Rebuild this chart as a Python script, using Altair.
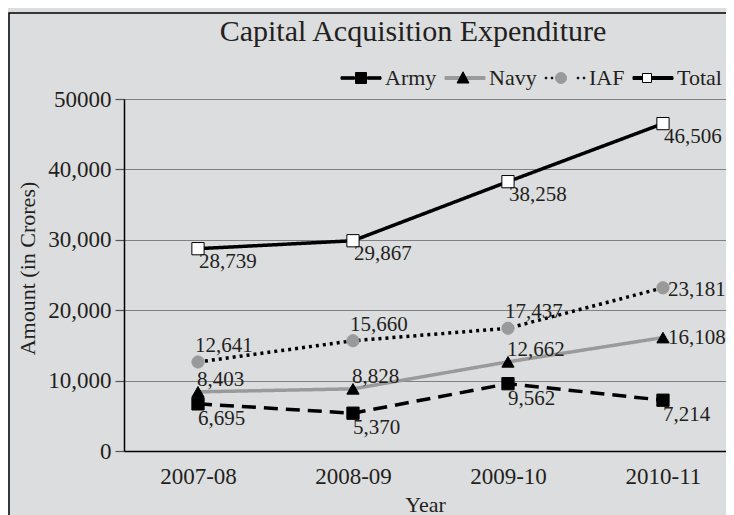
import altair as alt
import pandas as pd

years = ["2007-08", "2008-09", "2009-10", "2010-11"]
series_names = ["Army", "Navy", "IAF", "Total"]
army = [6695, 5370, 9562, 7214]
navy = [8403, 8828, 12662, 16108]
iaf = [12641, 15660, 17437, 23181]
total = [28739, 29867, 38258, 46506]
y_ticks = [0, 10000, 20000, 30000, 40000, 50000]

values_by_series = {"Army": army, "Navy": navy, "IAF": iaf, "Total": total}
rows = []
for s in series_names:
    for yr, v in zip(years, values_by_series[s]):
        rows.append({"Year": yr, "series": s, "series2": s, "Amount": v, "label": f"{v:,}"})
df = pd.DataFrame(rows)
legend_df = pd.DataFrame({"lg_line": series_names, "lg_mark": series_names})

FONT = "Liberation Serif"
TXT = "#231f20"
GRAY = "#9a9a9a"
W, H = 602, 352

x_enc = alt.X(
    "Year:O", sort=years,
    scale=alt.Scale(type="point", padding=0.442, align=0.54),
    axis=alt.Axis(labelAngle=0, ticks=False, tickSize=0, labelPadding=14,
                  domainColor="#000", domainWidth=1.5, grid=False,
                  labelFont=FONT, labelFontSize=23, labelColor=TXT,
                  title="Year", titleFont=FONT, titleFontSize=22, titleFontWeight="normal",
                  titleColor=TXT, titleX=301, titleY=53, titleBaseline="middle"),
)
y_enc = alt.Y(
    "Amount:Q",
    scale=alt.Scale(domain=[0, 50000], nice=False, zero=True),
    axis=alt.Axis(values=y_ticks,
                  labelExpr="datum.value == 50000 ? '50000' : format(datum.value, ',')",
                  grid=True, gridColor="#808080", gridWidth=1.2,
                  domainColor="#000", domainWidth=1.5,
                  tickColor="#555", tickSize=9, tickWidth=1.2,
                  labelFont=FONT, labelFontSize=23, labelColor=TXT, labelPadding=4,
                  title="Amount (in Crores)", titleFont=FONT, titleFontSize=22,
                  titleFontWeight="normal", titleColor=TXT,
                  titleX=-97, titleY=169, titleAlign="center", titleBaseline="middle"),
)

base = alt.Chart(df)

lines = base.mark_line(strokeJoin="round").encode(
    x=x_enc, y=y_enc,
    color=alt.Color("series:N", sort=series_names,
                    scale=alt.Scale(domain=series_names, range=["#000000", GRAY, "#000000", "#000000"]),
                    legend=None),
    strokeDash=alt.StrokeDash("series:N", sort=series_names,
                              scale=alt.Scale(domain=series_names, range=[[14, 8], [1, 0], [3, 4], [1, 0]]),
                              legend=None),
    strokeWidth=alt.StrokeWidth("series:N",
                                scale=alt.Scale(domain=series_names, range=[3.5, 3.5, 3, 4]),
                                legend=None),
)

points = base.mark_point(filled=True, opacity=1, strokeWidth=1).encode(
    x=x_enc, y=y_enc,
    shape=alt.Shape("series2:N",
                    scale=alt.Scale(domain=series_names, range=["square", "triangle-up", "circle", "square"]),
                    legend=None),
    fill=alt.Fill("series2:N",
                  scale=alt.Scale(domain=series_names, range=["#000000", "#000000", GRAY, "#ffffff"]),
                  legend=None),
    stroke=alt.Stroke("series2:N",
                      scale=alt.Scale(domain=series_names, range=["#000000", "#000000", GRAY, "#000000"]),
                      legend=None),
    size=alt.Size("series2:N", scale=alt.Scale(domain=series_names, range=[150, 150, 110, 90]), legend=None),
)

# legend glyphs (unit = 5px): line part and marker part, drawn as two identical overlaid legends
line_glyphs = [
    "M-4,-0.25H-1.3V0.25H-4ZM1.3,-0.25H4V0.25H1.3Z",
    "M-4,-0.3H4V0.3H-4Z",
    "M-3.95,-0.15H-3.65V0.15H-3.95ZM-2.75,-0.15H-2.45V0.15H-2.75Z"
    "M2.45,-0.15H2.75V0.15H2.45ZM3.65,-0.15H3.95V0.15H3.65Z",
    "M-4,-0.3H4V0.3H-4Z",
]
mark_glyphs = [
    "M-1.1,-1.1H1.1V1.1H-1.1Z",
    "M0,-1.25L1.2,1L-1.2,1Z",
    "M-1.1,0A1.1,1.1,0,1,0,1.1,0A1.1,1.1,0,1,0,-1.1,0Z",
    "M-0.9,-0.9H0.9V0.9H-0.9Z",
]


def legend_params(label_opacity):
    return alt.Legend(
        title=None, orient="none", legendX=217, legendY=-32, direction="horizontal",
        symbolSize=100, symbolStrokeWidth=1, symbolOffset=9,
        labelFont=FONT, labelFontSize=22, labelColor=TXT, labelOffset=13,
        labelOpacity=label_opacity, columnPadding=6, padding=0,
    )


line_cols = ["#000000", GRAY, "#000000", "#000000"]
leg_lines = alt.Chart(legend_df).transform_filter("false").mark_point(filled=True, opacity=1).encode(
    shape=alt.Shape("lg_line:N", scale=alt.Scale(domain=series_names, range=line_glyphs),
                    legend=legend_params(1)),
    fill=alt.Fill("lg_line:N", scale=alt.Scale(domain=series_names, range=line_cols),
                  legend=legend_params(1)),
    stroke=alt.Stroke("lg_line:N", scale=alt.Scale(domain=series_names, range=line_cols),
                      legend=legend_params(1)),
)
leg_marks = alt.Chart(legend_df).transform_filter("false").mark_point(filled=True, opacity=1).encode(
    shape=alt.Shape("lg_mark:N", scale=alt.Scale(domain=series_names, range=mark_glyphs),
                    legend=legend_params(0)),
    fill=alt.Fill("lg_mark:N",
                  scale=alt.Scale(domain=series_names, range=["#000000", "#000000", GRAY, "#ffffff"]),
                  legend=legend_params(0)),
    stroke=alt.Stroke("lg_mark:N",
                      scale=alt.Scale(domain=series_names, range=["#000000", "#000000", GRAY, "#000000"]),
                      legend=legend_params(0)),
)


def labels(series, dx, dy, last=None):
    flt = alt.datum.series == series
    if last is True:
        flt = (alt.datum.series == series) & (alt.datum.Year == years[-1])
    elif last is False:
        flt = (alt.datum.series == series) & (alt.datum.Year != years[-1])
    return base.transform_filter(flt).mark_text(
        font=FONT, fontSize=21, color=TXT, align="left", baseline="middle", dx=dx, dy=dy
    ).encode(x=x_enc, y=y_enc, text="label:N")


frame = alt.Chart(pd.DataFrame({"a": [0]})).mark_rect(
    filled=False, stroke="#000", strokeWidth=1.5, clip=False
).encode(x=alt.value(-115), x2=alt.value(W + 60), y=alt.value(-86), y2=alt.value(H + 120))

chart = alt.layer(
    frame, lines, points, leg_lines, leg_marks,
    labels("Total", 1, 13),
    labels("IAF", -3, -16, last=False), labels("IAF", 5, 2, last=True),
    labels("Navy", -1, -12, last=False), labels("Navy", 5, 0, last=True),
    labels("Army", 0, 15),
).resolve_scale(shape="independent", fill="independent", stroke="independent").properties(
    width=W, height=H,
    title=alt.TitleParams("Capital Acquisition Expenditure", font=FONT, fontSize=30,
                          fontWeight="normal", color=TXT, anchor="middle", dx=-12, offset=-35),
    autosize=alt.AutoSizeParams(type="none"),
    padding={"left": 116, "top": 91, "right": 0, "bottom": 64},
    background="#dcdddf",
).configure_view(fill="white", stroke="#555", strokeWidth=1)

chart.save("out.html", embed_options={"renderer": "svg", "actions": False})
